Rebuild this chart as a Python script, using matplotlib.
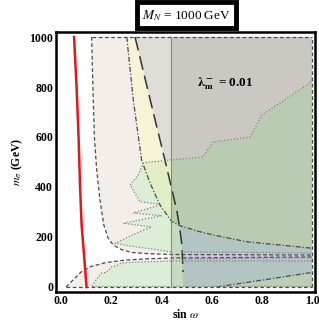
import matplotlib
matplotlib.use("Agg")
import matplotlib.pyplot as plt

plt.rcParams['font.family'] = ['Liberation Serif', 'DejaVu Serif']
plt.rcParams['mathtext.fontset'] = 'stix'

# ---- data (sin w, m_sigma in GeV) ----
# red curve
red_x = [0.052, 0.062, 0.070, 0.076, 0.082, 0.090, 0.097, 0.102]
red_y = [1000, 800, 600, 400, 250, 150, 60, 0]

# short-dashed boundaries of the pink region
upper_dash_x = [0.122, 0.127, 0.133, 0.142, 0.155, 0.170, 0.188, 0.208, 0.240, 0.282, 0.350, 0.440, 1.0]
upper_dash_y = [1000, 800, 600, 470, 350, 250, 195, 168, 150, 138, 133, 130, 128]
lower_dash_x = [0.02, 0.05, 0.08, 0.12, 0.18, 0.26, 0.35, 0.44, 1.0]
lower_dash_y = [0, 30, 60, 82, 98, 108, 113, 116, 120]

# dash-dot boundary of the yellow region
dashdot_x = [0.262, 0.288, 0.321, 0.355, 0.394, 0.441, 0.474, 0.550, 0.607, 0.740, 0.873, 1.0]
dashdot_y = [1000, 748, 508, 415, 328, 262, 245, 222, 208, 181, 168, 155]

# lower dash-dot curve (bottom right)
low_dd_x = [0.62, 0.673, 0.805, 0.979, 1.0]
low_dd_y = [0, 8, 28, 55, 58]

# long-dashed line
longdash_x = [0.295, 0.355, 0.414, 0.461, 0.474, 0.482, 0.486]
longdash_y = [1000, 750, 508, 308, 228, 164, 60]

# vertical bound
sin_cut = 0.44

# dotted boundary of the upper green region
green_up_x = [1.0, 0.992, 0.80, 0.753, 0.606, 0.566, 0.434, 0.328, 0.308, 0.275, 0.315, 0.40,
              0.288, 0.40, 0.248, 0.36, 0.30, 0.215, 0.30, 0.38, 0.44]
green_up_y = [835, 816, 688, 600, 580, 520, 508, 497, 448, 408, 341, 330,
              296, 285, 255, 240, 215, 175, 160, 150, 140]

# dotted boundary of the lower green region
green_lo_x = [0.124, 0.14, 0.162, 0.18, 0.202, 0.22, 0.242, 0.30, 0.44, 1.0]
green_lo_y = [3, 30, 56, 58, 81, 85, 96, 100, 104, 104]

# purple strip
strip_x = [0.48, 1.0]
strip_lo = [112, 118]
strip_hi = [140, 136]

xticks = [0.0, 0.2, 0.4, 0.6, 0.8, 1.0]
yticks = [0, 200, 400, 600, 800, 1000]

# ---- colours ----
c_pink = '#f3eeea'
c_yellow = '#f6f3d6'
c_lgray = '#dfdcd8'
c_dgray = '#cbc8c4'
c_lgreen = '#dcefd6'
c_ygreen = '#e2efc4'
c_dgreen = '#b9cbb0'
c_mgreen = '#c8dac2'
c_blue = '#b3c5c3'
c_purple = '#cac5de'
c_lrgreen = '#bccdb3'

fig = plt.figure(figsize=(3.19, 3.22), dpi=100)
ax = fig.add_axes([0.1755, 0.0932, 0.812, 0.8074])

# pink regions
pink_up = list(zip(upper_dash_x, upper_dash_y)) + [(1.0, 1000)]
pink_lo = list(zip(lower_dash_x, lower_dash_y)) + [(1.0, 0)]
ax.fill(*zip(*pink_up), color=c_pink, lw=0)
ax.fill(*zip(*pink_lo), color=c_pink, lw=0)

# yellow
yel = [(dashdot_x[0], 1000)] + list(zip(dashdot_x, dashdot_y)) + [(1.0, 1000)]
p_yel = ax.fill(*zip(*yel), color=c_yellow, lw=0)[0]

# light gray right of long-dash
lg = [(0.295, 1000), (0.355, 750), (0.414, 508), (sin_cut, 398), (sin_cut, 1000)]
ax.fill(*zip(*lg), color=c_lgray, lw=0)

# dark gray
p_dg = ax.fill([sin_cut, 1.0, 1.0, sin_cut], [0, 0, 1000, 1000], color=c_dgray, lw=0)[0]

# green regions, coloured by what they lie over
green_up = list(zip(green_up_x, green_up_y)) + [(1.0, 140)]
green_lo = list(zip(green_lo_x, green_lo_y)) + [(1.0, 0), (0.124, 0)]
for poly in (green_up, green_lo):
    ax.fill(*zip(*poly), color=c_lgreen, lw=0)
    g = ax.fill(*zip(*poly), color=c_ygreen, lw=0)[0]
    g.set_clip_path(p_yel)
    g = ax.fill(*zip(*poly), color=c_dgreen, lw=0)[0]
    g.set_clip_path(p_dg)

# strip between the cut and the long-dash, below dash-dot
mstrip = [(sin_cut, 262), (0.474, 245), (0.482, 164), (0.486, 0), (sin_cut, 0)]
ax.fill(*zip(*mstrip), color=c_mgreen, lw=0)

# blue-gray region
blue = ([(0.474, 245), (0.482, 164), (0.486, 0)] + list(zip(low_dd_x, low_dd_y))
        + [(1.0, 155), (0.873, 168), (0.74, 181), (0.607, 208), (0.55, 222)])
ax.fill(*zip(*blue), color=c_blue, lw=0)

lr = list(zip(low_dd_x, low_dd_y)) + [(1.0, 0)]
ax.fill(*zip(*lr), color=c_lrgreen, lw=0)

# purple strip
ax.fill_between(strip_x, strip_lo, strip_hi, color=c_purple, lw=0)

# ---- lines ----
dk = '#4a4a4a'
ax.plot(upper_dash_x, upper_dash_y, color=dk, lw=0.9, dashes=(3, 2))
ax.plot(lower_dash_x, lower_dash_y, color=dk, lw=0.9, dashes=(3, 2))
ax.plot([0.122, 1.0], [1000, 1000], color=dk, lw=0.9, dashes=(3, 2))
ax.plot([0.02, 1.0], [0, 0], color=dk, lw=0.9, dashes=(3, 2))
ax.plot([1.0, 1.0], [0, 1000], color=dk, lw=0.9, dashes=(3, 2))
ax.plot(dashdot_x, dashdot_y, color=dk, lw=0.9, dashes=(4, 1.5, 1, 1.5))
ax.plot(low_dd_x, low_dd_y, color=dk, lw=0.9, dashes=(4, 1.5, 1, 1.5))
ax.plot(longdash_x, longdash_y, color='#333333', lw=1.1, dashes=(9, 4))
ax.plot([sin_cut, sin_cut], [0, 1000], color='#8a8a8a', lw=0.8)
ax.plot(green_up_x, green_up_y, color='#808080', lw=0.9, ls=(0, (1, 1.5)))
ax.plot(green_lo_x, green_lo_y, color='#808080', lw=0.9, ls=(0, (1, 1.5)))
ax.plot([0.124, 1.0], [5, 5], color='#808080', lw=0.9, ls=(0, (1, 1.5)))
ax.plot(strip_x, strip_lo, color='#808080', lw=0.9, ls=(0, (1, 1.5)))
ax.plot(strip_x, strip_hi, color='#808080', lw=0.9, ls=(0, (1, 1.5)))
ax.plot(red_x, red_y, color='#e8141b', lw=1.8)

ax.text(0.655, 815, r'$\mathbf{\lambda_m^-}$ = 0.01', fontsize=9.5, fontweight='bold',
        ha='center', va='center')

ax.set_xlim(-0.02, 1.012)
ax.set_ylim(-20, 1020)
ax.set_xticks(xticks)
ax.set_xticklabels(['%.1f' % v for v in xticks])
ax.set_yticks(yticks)
ax.tick_params(direction='in', length=0, labelsize=8.5, pad=2)
for lab in ax.get_xticklabels() + ax.get_yticklabels():
    lab.set_fontweight('bold')
for s in ax.spines.values():
    s.set_linewidth(1.8)

ax.set_xlabel(r'sin $\omega$', fontsize=8.5, fontweight='bold', labelpad=1)
ax.set_ylabel(r'$m_\sigma$ (GeV)', fontsize=8.5, fontweight='bold', labelpad=3)

fig.text(0.585, 0.953, r'$M_N$ = 1000 GeV', fontsize=9.5, ha='center', va='center',
         bbox=dict(boxstyle='square,pad=0.4', facecolor='white', edgecolor='black', linewidth=3.5))

fig.savefig('out.png', dpi=100)
